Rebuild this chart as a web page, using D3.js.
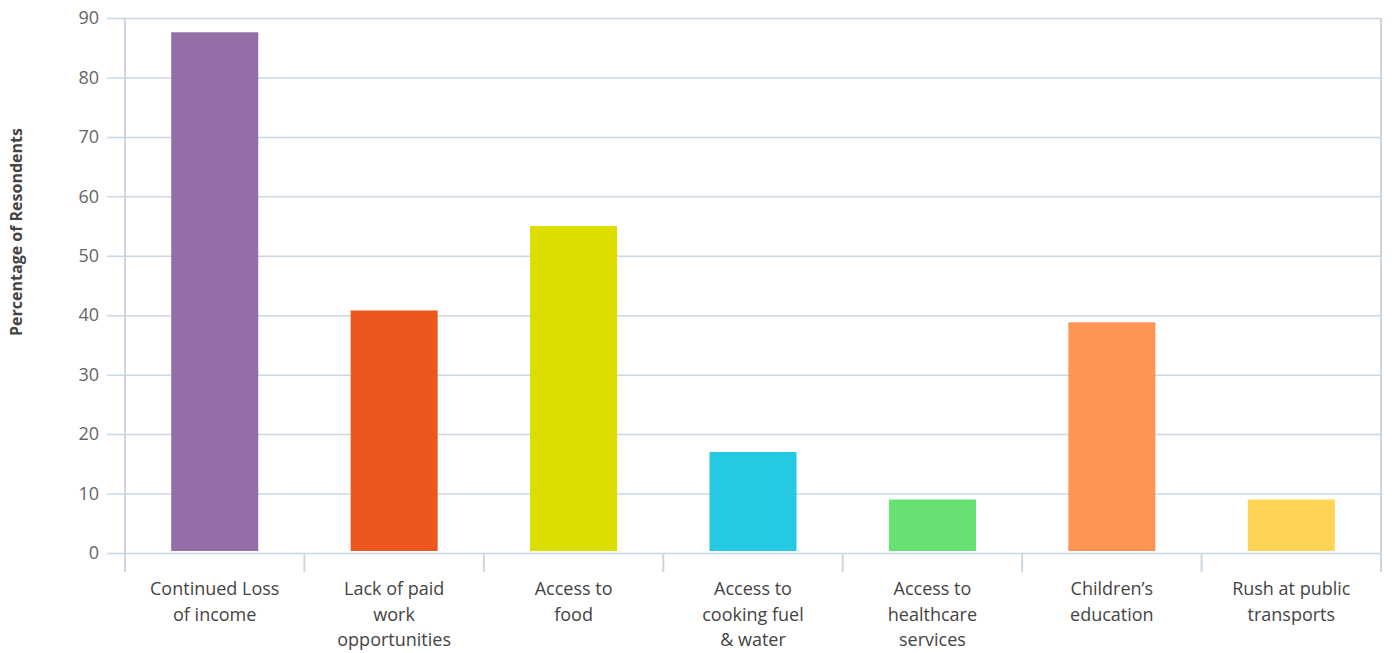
<!DOCTYPE html>
<html>
<head>
<meta charset="utf-8">
<script src="https://cdn.jsdelivr.net/npm/d3@7"></script>
<style>
  body { margin: 0; background: #fff; }
  text { font-family: "Open Sans", sans-serif; }
</style>
</head>
<body>
<svg id="chart"></svg>
<script>
var categories = [
  "Continued Loss of income",
  "Lack of paid work opportunities",
  "Access to food",
  "Access to cooking fuel & water",
  "Access to healthcare services",
  "Children's education",
  "Rush at public transports"
];
var labelLines = [
  ["Continued Loss", "of income"],
  ["Lack of paid", "work", "opportunities"],
  ["Access to", "food"],
  ["Access to", "cooking fuel", "& water"],
  ["Access to", "healthcare", "services"],
  ["Children\u2019s", "education"],
  ["Rush at public", "transports"]
];
var values = [87.6, 40.8, 55, 17, 9, 38.8, 9];
var colors = ["#946ea8", "#eb571d", "#dddd00", "#26c9e3", "#66e172", "#ff9455", "#ffd455"];
var yTicks = [0, 10, 20, 30, 40, 50, 60, 70, 80, 90];

var width = 1392, height = 653;
var margin = { top: 18, right: 11, bottom: 100, left: 125 };

var svg = d3.select("#chart").attr("width", width).attr("height", height);

var x = d3.scaleBand()
  .domain(categories)
  .range([margin.left, width - margin.right])
  .paddingInner(0.515)
  .paddingOuter(0.2575);

var y = d3.scaleLinear()
  .domain([0, 90])
  .range([height - margin.bottom, margin.top]);

var gridColor = "#cad7e3";

// horizontal grid + y tick labels
var yAxis = svg.append("g")
  .attr("transform", "translate(" + (width - margin.right) + ",0)")
  .call(d3.axisLeft(y).tickValues(yTicks).tickSize(width - margin.right - 107).tickPadding(8));
yAxis.select(".domain").remove();
yAxis.selectAll(".tick line").attr("stroke", gridColor).attr("stroke-width", 1.5);
yAxis.selectAll(".tick text")
  .attr("fill", "#666")
  .style("font-size", "18px");

// category boundary ticks
var bounds = categories.map(function(c) { return x(c) - x.step() * x.paddingInner() / 2; });
bounds[0] = margin.left;
bounds.push(width - margin.right);
svg.append("g").selectAll("line")
  .data(bounds)
  .join("line")
  .attr("x1", function(d) { return d; })
  .attr("x2", function(d) { return d; })
  .attr("y1", function(d, i) { return (i === 0 || i === bounds.length - 1) ? margin.top : y(0); })
  .attr("y2", y(0) + 19)
  .attr("stroke", gridColor)
  .attr("stroke-width", 2);

// bars
svg.append("g").selectAll("rect")
  .data(values)
  .join("rect")
  .attr("x", function(d, i) { return x(categories[i]); })
  .attr("width", x.bandwidth())
  .attr("y", function(d) { return y(d); })
  .attr("height", function(d) { return y(0) - 2 - y(d); })
  .attr("fill", function(d, i) { return colors[i]; });

// category labels
var lab = svg.append("g").selectAll("text")
  .data(labelLines)
  .join("text")
  .attr("text-anchor", "middle")
  .attr("fill", "#444")
  .style("font-size", "18px")
  .attr("transform", function(d, i) { return "translate(" + (x(categories[i]) + x.bandwidth() / 2) + "," + (y(0) + 42) + ")"; });
lab.selectAll("tspan")
  .data(function(d) { return d; })
  .join("tspan")
  .attr("x", 0)
  .attr("y", function(d, i) { return i * 25.5; })
  .text(function(d) { return d; });

// y axis title
svg.append("text")
  .attr("transform", "translate(22,232) rotate(-90)")
  .attr("text-anchor", "middle")
  .attr("fill", "#444")
  .style("font-size", "16px")
  .style("font-weight", "bold")
  .text("Percentage of Resondents");
</script>
</body>
</html>
